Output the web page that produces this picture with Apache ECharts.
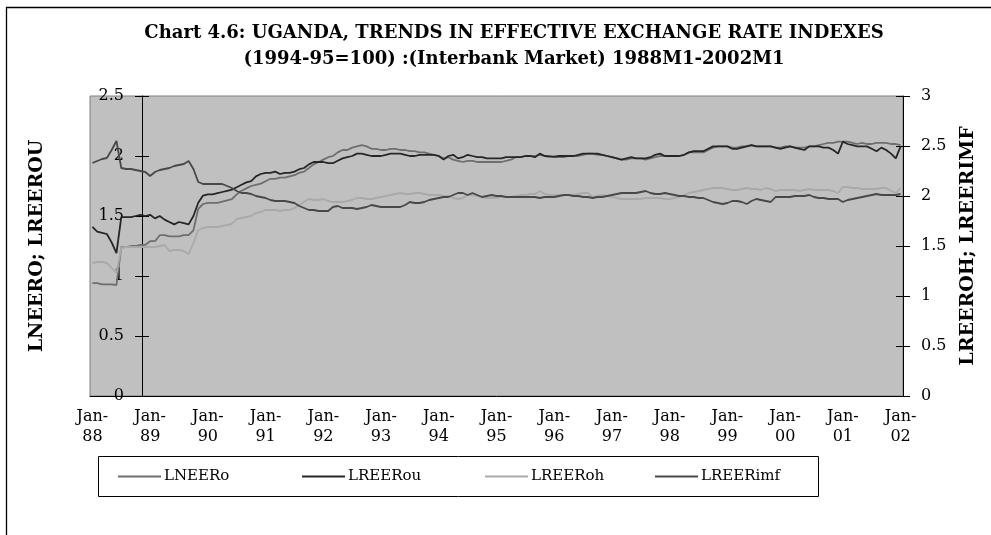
<!DOCTYPE html>
<html>
<head>
<meta charset="utf-8">
<script src="https://cdn.jsdelivr.net/npm/echarts@6/dist/echarts.min.js"></script>
<style>
  html, body { margin: 0; padding: 0; background: #ffffff; }
  #chart { width: 991px; height: 535px; }
</style>
</head>
<body>
<div id="chart"></div>
<script>
// Monthly categories, Jan-1988 .. Jan-2002
const monthNames = ['Jan','Feb','Mar','Apr','May','Jun','Jul','Aug','Sep','Oct','Nov','Dec'];
const yearLabels = ['88','89','90','91','92','93','94','95','96','97','98','99','00','01'];
const categories = [];
yearLabels.forEach(y => monthNames.forEach(m => categories.push(m + '-' + y)));
categories.push('Jan-02');

// Left axis series (log indexes)
const lneero = [
  0.94,0.94,0.93,0.93,0.93,0.925,1.24,1.24,1.25,1.25,1.26,1.26,
  1.29,1.29,1.34,1.34,1.33,1.33,1.33,1.34,1.34,1.38,1.56,1.60,
  1.61,1.61,1.61,1.62,1.63,1.64,1.68,1.71,1.73,1.75,1.76,1.77,
  1.79,1.81,1.81,1.82,1.82,1.83,1.84,1.86,1.87,1.90,1.93,1.95,
  1.97,1.99,2.00,2.03,2.05,2.05,2.07,2.08,2.09,2.08,2.06,2.06,
  2.05,2.05,2.06,2.06,2.05,2.05,2.04,2.04,2.03,2.03,2.02,2.01,
  2.00,1.98,1.99,1.97,1.96,1.95,1.96,1.96,1.95,1.95,1.95,1.95,
  1.95,1.95,1.96,1.97,1.99,1.99,2.00,2.00,2.00,2.01,2.00,2.00,
  1.99,1.99,1.99,2.00,2.00,2.00,2.01,2.02,2.02,2.01,2.01,2.00,
  1.99,1.98,1.97,1.97,1.98,1.98,1.98,1.97,1.98,1.99,2.00,2.00,
  2.00,2.00,2.00,2.01,2.03,2.03,2.03,2.03,2.05,2.07,2.08,2.08,
  2.08,2.07,2.07,2.08,2.08,2.09,2.08,2.08,2.08,2.08,2.07,2.07,
  2.08,2.08,2.07,2.07,2.07,2.08,2.08,2.09,2.10,2.11,2.11,2.12,
  2.12,2.12,2.11,2.10,2.11,2.10,2.10,2.11,2.11,2.11,2.10,2.10,
  2.09
];
const lreerou = [
  1.41,1.37,1.36,1.35,1.28,1.19,1.49,1.49,1.49,1.50,1.51,1.50,
  1.51,1.48,1.50,1.47,1.45,1.43,1.45,1.44,1.43,1.50,1.61,1.67,
  1.68,1.68,1.69,1.70,1.71,1.72,1.74,1.76,1.78,1.79,1.83,1.85,
  1.86,1.86,1.87,1.85,1.86,1.86,1.87,1.89,1.90,1.93,1.95,1.95,
  1.95,1.94,1.94,1.96,1.98,1.99,2.00,2.02,2.02,2.01,2.00,2.00,
  2.00,2.01,2.02,2.02,2.02,2.01,2.00,2.00,2.01,2.01,2.01,2.01,
  2.00,1.97,2.00,2.01,1.98,1.99,2.01,2.00,1.99,1.99,1.98,1.98,
  1.98,1.98,1.99,1.99,1.99,1.99,2.00,2.00,1.99,2.02,2.00,1.995,
  1.995,2.00,2.00,2.00,2.00,2.01,2.02,2.02,2.02,2.02,2.01,2.00,
  1.99,1.98,1.97,1.98,1.99,1.98,1.98,1.98,1.99,2.01,2.02,2.00,
  2.00,2.00,2.00,2.01,2.03,2.04,2.04,2.04,2.06,2.08,2.08,2.08,
  2.08,2.06,2.06,2.07,2.08,2.09,2.08,2.08,2.08,2.08,2.07,2.06,
  2.07,2.08,2.07,2.06,2.05,2.08,2.08,2.08,2.07,2.07,2.05,2.02,
  2.12,2.10,2.09,2.08,2.08,2.08,2.06,2.04,2.07,2.05,2.02,1.98,
  2.08
];

// Right axis series (log indexes)
const lreeroh = [
  1.33,1.34,1.34,1.33,1.28,1.23,1.48,1.49,1.49,1.49,1.49,1.49,
  1.49,1.49,1.50,1.51,1.45,1.46,1.46,1.45,1.42,1.53,1.66,1.68,
  1.69,1.69,1.69,1.70,1.71,1.72,1.77,1.78,1.79,1.80,1.83,1.84,
  1.86,1.86,1.86,1.85,1.86,1.86,1.88,1.91,1.94,1.97,1.96,1.96,
  1.97,1.95,1.94,1.94,1.94,1.95,1.96,1.98,1.98,1.97,1.97,1.98,
  1.99,2.00,2.01,2.02,2.03,2.02,2.02,2.03,2.03,2.02,2.01,2.01,
  2.01,2.00,2.00,1.98,1.97,1.98,2.01,2.01,2.00,1.99,1.98,1.98,
  1.98,1.99,1.99,1.99,2.00,2.01,2.01,2.02,2.02,2.05,2.02,2.01,
  2.01,2.01,2.01,2.01,2.01,2.02,2.03,2.03,1.99,2.00,2.01,2.00,
  1.99,1.98,1.97,1.97,1.97,1.97,1.97,1.98,1.98,1.98,1.98,1.97,
  1.97,1.98,1.99,2.01,2.03,2.04,2.05,2.06,2.07,2.08,2.08,2.08,
  2.07,2.06,2.06,2.07,2.08,2.07,2.07,2.06,2.08,2.07,2.05,2.06,
  2.06,2.06,2.06,2.05,2.06,2.07,2.06,2.06,2.06,2.06,2.05,2.03,
  2.09,2.09,2.08,2.08,2.07,2.07,2.07,2.07,2.08,2.08,2.05,2.03,
  2.08
];
const lreerimf = [
  2.33,2.35,2.37,2.38,2.46,2.55,2.28,2.27,2.27,2.26,2.25,2.24,
  2.20,2.24,2.26,2.27,2.28,2.30,2.31,2.32,2.35,2.27,2.14,2.12,
  2.12,2.12,2.12,2.12,2.10,2.08,2.05,2.03,2.03,2.02,2.00,1.99,
  1.98,1.96,1.95,1.95,1.95,1.94,1.93,1.90,1.88,1.86,1.86,1.85,
  1.85,1.85,1.89,1.90,1.88,1.88,1.88,1.87,1.88,1.89,1.91,1.90,
  1.89,1.89,1.89,1.89,1.89,1.91,1.94,1.93,1.93,1.94,1.96,1.97,
  1.98,1.99,1.99,2.01,2.03,2.03,2.01,2.03,2.01,1.99,2.00,2.01,
  2.00,2.00,1.99,1.99,1.99,1.99,1.99,1.99,1.99,1.98,1.99,1.99,
  1.99,2.00,2.01,2.01,2.00,2.00,1.99,1.99,1.98,1.99,1.99,2.00,
  2.01,2.02,2.03,2.03,2.03,2.03,2.04,2.05,2.03,2.02,2.02,2.03,
  2.02,2.01,2.00,2.00,1.99,1.99,1.98,1.98,1.96,1.94,1.93,1.92,
  1.93,1.95,1.95,1.94,1.92,1.95,1.97,1.96,1.95,1.94,1.99,1.99,
  1.99,1.99,2.00,2.00,2.00,2.01,1.99,1.98,1.98,1.97,1.97,1.97,
  1.94,1.96,1.97,1.98,1.99,2.00,2.01,2.02,2.01,2.01,2.01,2.01,
  2.02
];

const seriesNames = ['LNEERo', 'LREERou', 'LREERoh', 'LREERimf'];
const seriesColors = ['#6e6e6e', '#262626', '#a9a9a9', '#484848'];

const FONT = '"DejaVu Serif", serif';
const labelStyle = { color: '#000', fontFamily: FONT, fontSize: 16 };
const nameStyle = { color: '#000', fontFamily: FONT, fontSize: 19, fontWeight: 'bold' };

function valueAxis(pos, max, offset, withLabels, inside) {
  return {
    type: 'value', position: pos, min: 0, max: max, interval: 0.5, offset: offset,
    splitLine: { show: false },
    axisLine: { show: withLabels, lineStyle: { color: '#000', width: 1 } },
    axisTick: { show: true, inside: inside, length: 7, lineStyle: { color: '#000', width: 1 } },
    axisLabel: withLabels ? Object.assign({ margin: 18 }, labelStyle) : { show: false }
  };
}

const chart = echarts.init(document.getElementById('chart'), null, { renderer: 'canvas' });

const leftAxis = valueAxis('left', 2.5, -52, true, false);
leftAxis.name = 'LNEERO; LREEROU';
leftAxis.nameLocation = 'middle';
leftAxis.nameGap = 95;
leftAxis.nameRotate = 90;
leftAxis.nameTextStyle = nameStyle;

const rightAxis = valueAxis('right', 3, 0, true, false);
rightAxis.name = 'LREEROH; LREERIMF';
rightAxis.nameLocation = 'middle';
rightAxis.nameGap = 56;
rightAxis.nameRotate = 90;
rightAxis.nameTextStyle = nameStyle;

const legends = [118, 302, 485, 655].map((x, i) => ({
  data: [seriesNames[i]], left: x, top: 469, padding: 0,
  icon: 'rect', itemWidth: 43, itemHeight: 2, itemGap: 4,
  textStyle: { color: '#000', fontFamily: FONT, fontSize: 15, padding: [0, 0, 0, -2] }
}));

chart.setOption({
  animation: false,
  backgroundColor: '#ffffff',
  grid: { left: 90, right: 88, top: 96, bottom: 139, show: true,
          backgroundColor: '#c0c0c0', borderColor: '#808080', borderWidth: 1 },
  legend: legends,
  xAxis: [
    {
      type: 'category', data: categories, boundaryGap: true, position: 'bottom',
      axisLine: { lineStyle: { color: '#000', width: 1 } },
      axisTick: { interval: 11, length: 7, lineStyle: { color: '#000' } },
      axisLabel: Object.assign({
        interval: 11, margin: 11, lineHeight: 20,
        formatter: v => v.replace('-', '-\n')
      }, labelStyle)
    },
    {
      type: 'category', data: categories, boundaryGap: true, position: 'bottom', offset: 0,
      axisLine: { show: false },
      axisTick: { interval: 11, inside: true, length: 7, lineStyle: { color: '#000' } },
      axisLabel: { show: false }
    }
  ],
  yAxis: [
    leftAxis,
    rightAxis,
    valueAxis('left', 2.5, -52, false, true),
    valueAxis('right', 3, 0, false, true)
  ],
  series: [
    { name: seriesNames[0], data: lneero, yAxisIndex: 0 },
    { name: seriesNames[1], data: lreerou, yAxisIndex: 0 },
    { name: seriesNames[2], data: lreeroh, yAxisIndex: 1 },
    { name: seriesNames[3], data: lreerimf, yAxisIndex: 1 }
  ].map((s, i) => Object.assign({
    type: 'line', symbol: 'none', showSymbol: false, silent: true,
    lineStyle: { color: seriesColors[i], width: 1.8 },
    itemStyle: { color: seriesColors[i] }
  }, s)),
  graphic: [
    { type: 'rect', silent: true, z: -1,
      shape: { x: 6.5, y: 7.5, width: 1200, height: 1000 },
      style: { fill: null, stroke: '#000', lineWidth: 1.3 } },
    { type: 'rect', silent: true,
      shape: { x: 98.5, y: 456.5, width: 720, height: 40 },
      style: { fill: null, stroke: '#000', lineWidth: 1 } },
    { type: 'text', silent: true, x: 514, y: 33,
      style: { text: 'Chart 4.6: UGANDA, TRENDS IN EFFECTIVE EXCHANGE RATE INDEXES',
               fill: '#000', font: 'bold 18px "DejaVu Serif", serif',
               textAlign: 'center', textVerticalAlign: 'middle' } },
    { type: 'text', silent: true, x: 514, y: 59,
      style: { text: '(1994-95=100) :(Interbank Market) 1988M1-2002M1',
               fill: '#000', font: 'bold 18px "DejaVu Serif", serif',
               textAlign: 'center', textVerticalAlign: 'middle' } }
  ]
});
</script>
</body>
</html>
